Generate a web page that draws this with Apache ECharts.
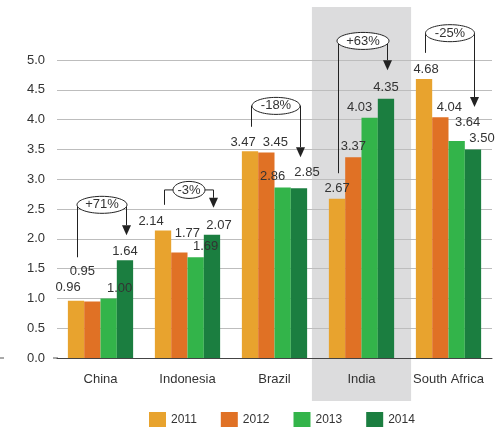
<!DOCTYPE html>
<html>
<head>
<meta charset="utf-8">
<style>
  html, body { margin: 0; padding: 0; background: #fff; }
  #chart { width: 503px; height: 429px; }
</style>
<script src="https://cdn.jsdelivr.net/npm/echarts@6/dist/echarts.min.js"></script>
</head>
<body>
<div id="chart"></div>
<script>
// categories and yearly values
const countries = ['China', 'Indonesia', 'Brazil', 'India', 'South Africa']
const years = ['2011', '2012', '2013', '2014']
const v2011 = [0.96, 2.14, 3.47, 2.67, 4.68]
const v2012 = [0.95, 1.77, 3.45, 3.37, 4.04]
const v2013 = [1.00, 1.69, 2.86, 4.03, 3.64]
const v2014 = [1.64, 2.07, 2.85, 4.35, 3.50]
const changes = ['+71%', '-3%', '-18%', '+63%', '-25%']
const yTicks = [0, 0.5, 1, 1.5, 2, 2.5, 3, 3.5, 4, 4.5, 5]

const colors = ['#E8A32E', '#E07125', '#33B44A', '#1B7E40']
const font = "'Liberation Sans', Arial, sans-serif"

// label nudges so they sit like the original (px, per series / per category)
const labelShift = [
  [[-8, -2], [-12, 2], [-7, 3], [0, 1], [2, 2]],
  [[-10, -18], [8, -8], [9, 2], [0, 1], [9, 2]],
  [[11, 2], [10, 1], [-10, 0], [-10, 1], [11, -7]],
  [[0, 3], [7, 2], [8, -4], [0, 0], [9, 1]]
]
// bracket layout in axis units: start of left leg, bracket level, arrow tip; ellipse half width
const bracket = [
  { base: 1.69, level: 2.57, tip: 2.06, rx: 25 },
  { base: 2.57, level: 2.82, tip: 2.52, rx: 16 },
  { base: 3.88, level: 4.23, tip: 3.37, rx: 24 },
  { base: 3.10, level: 5.32, tip: 4.83, rx: 26 },
  { base: 5.12, level: 5.45, tip: 4.21, rx: 24.5 }
]

const chart = echarts.init(document.getElementById('chart'))

const allValues = [v2011, v2012, v2013, v2014]
const series = allValues.map((vals, s) => ({
  name: years[s],
  type: 'bar',
  barGap: 0,
  barCategoryGap: '25%',
  itemStyle: { color: colors[s] },
  data: vals.map((v, i) => ({
    value: v,
    label: {
      show: true,
      position: 'top',
      offset: labelShift[s][i],
      formatter: () => v.toFixed(2),
      color: '#333',
      fontSize: 13,
      fontFamily: font
    }
  }))
}))

chart.setOption({
  animation: false,
  grid: { left: 57, right: 11, top: 60, bottom: 71 },
  legend: {
    data: years,
    left: 144,
    top: 407,
    icon: 'rect',
    itemWidth: 17,
    itemHeight: 15,
    itemGap: 24,
    textStyle: { color: '#333', fontSize: 12, fontFamily: font }
  },
  xAxis: {
    type: 'category',
    data: countries,
    axisLine: { lineStyle: { color: '#444', width: 1 } },
    axisTick: { show: false },
    axisLabel: { interval: 0, color: '#333', fontSize: 13, fontFamily: font, margin: 15 }
  },
  yAxis: {
    type: 'value',
    min: yTicks[0],
    max: yTicks[yTicks.length - 1],
    interval: 0.5,
    axisLine: { show: false },
    axisTick: { show: false },
    splitLine: { lineStyle: { color: '#bdbdbd', width: 1 } },
    axisLabel: { color: '#333', fontSize: 13, fontFamily: font, margin: 12, formatter: v => v.toFixed(1) }
  },
  series
})

// annotations: highlight band for India plus change brackets
const px = name => chart.convertToPixel({ xAxisIndex: 0 }, name)
const py = v => chart.convertToPixel({ yAxisIndex: 0 }, v)
const step = px(countries[1]) - px(countries[0])
const bw = step * 0.75 / 4
const line = { stroke: '#222', lineWidth: 1, fill: null }
const graphic = []

const indiaX = px('India')
graphic.push({
  type: 'rect', z: -1,
  shape: { x: indiaX - step * 0.57, y: 7, width: step * 1.14, height: 394 },
  style: { fill: '#dcdcdd' }
})
graphic.push({ type: 'line', shape: { x1: 0, y1: py(0), x2: 4, y2: py(0) }, style: { stroke: '#555' } })
graphic.push({ type: 'line', shape: { x1: 53, y1: py(0), x2: 58, y2: py(0) }, style: { stroke: '#555' } })

countries.forEach((c, i) => {
  const cx = px(c)
  const b = bracket[i]
  const lx = Math.round(cx - 1.5 * bw + 1) + 0.5
  const rx = Math.round(cx + 1.5 * bw + 1.5) + 0.5
  const ly = py(b.level)
  const ex = (lx + rx) / 2
  const tipY = py(b.tip)
  graphic.push({
    type: 'polyline', z: 10,
    shape: { points: [[lx, py(b.base)], [lx, ly], [ex - b.rx, ly]] },
    style: line
  })
  graphic.push({
    type: 'polyline', z: 10,
    shape: { points: [[ex + b.rx, ly], [rx, ly], [rx, tipY - 10]] },
    style: line
  })
  graphic.push({
    type: 'polygon', z: 10,
    shape: { points: [[rx - 4.5, tipY - 10], [rx + 4.5, tipY - 10], [rx, tipY]] },
    style: { fill: '#222' }
  })
  graphic.push({
    type: 'ellipse', z: 11,
    shape: { cx: ex, cy: ly, rx: b.rx, ry: 8.5 },
    style: { fill: '#fff', stroke: '#222', lineWidth: 1 }
  })
  graphic.push({
    type: 'text', z: 12,
    x: ex, y: ly,
    style: { text: changes[i], fill: '#333', font: '13px ' + font, align: 'center', verticalAlign: 'middle' }
  })
})

chart.setOption({ graphic })
</script>
</body>
</html>
